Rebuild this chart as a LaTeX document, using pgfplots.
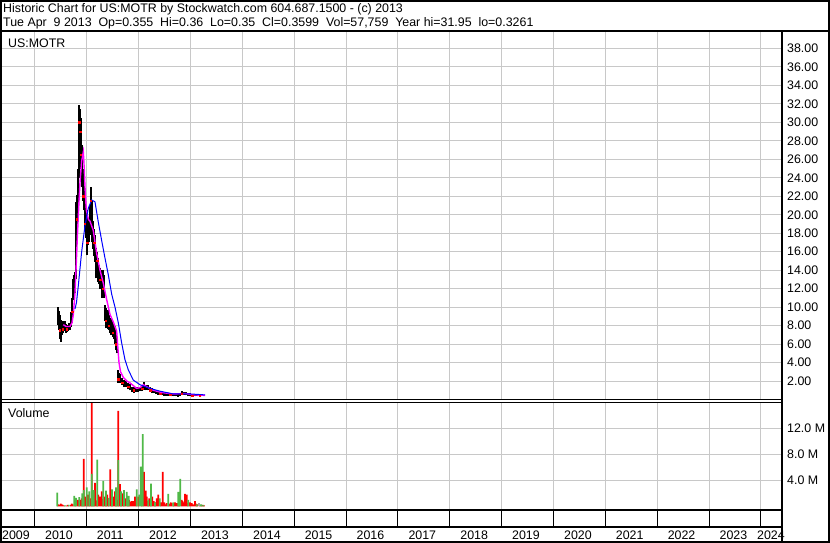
\documentclass[border=0pt]{standalone}
\usepackage{pgfplots}
\usepackage{pgfplotstable}
\usepackage{fontspec}
\setmainfont{Liberation Sans}
\pgfplotsset{compat=1.18}
\newcommand\cf{\fontsize{12.4}{14}\selectfont}
\definecolor{gridc}{RGB}{200,200,200}
\definecolor{vgreen}{RGB}{80,185,72}
\definecolor{vgrey}{RGB}{160,160,160}
\definecolor{mag}{RGB}{255,0,255}

\pgfplotstableread{
t hi lo
2010.444 10.0 8.1
2010.463 9.6 7.5
2010.482 9.1 6.6
2010.501 8.6 6.2
2010.521 8.3 7.0
2010.540 8.5 7.2
2010.559 8.4 7.4
2010.579 8.5 7.4
2010.598 8.2 7.2
2010.617 8.0 7.3
2010.636 8.1 7.4
2010.656 8.3 7.5
2010.675 8.3 7.5
2010.694 9.5 7.8
2010.714 11.0 8.3
2010.733 13.0 10.8
2010.752 13.5 11.2
2010.771 13.8 11.5
2010.791 21.4 13.0
2010.810 22.1 18.0
2010.829 25.0 19.5
2010.849 31.9 24.0
2010.868 31.5 25.0
2010.887 30.5 25.9
2010.906 27.5 23.0
2010.926 25.0 21.5
2010.945 23.9 20.5
2010.964 22.2 18.3
2010.984 21.0 17.5
2011.003 20.5 15.6
2011.022 19.5 16.7
2011.041 19.0 17.0
2011.061 21.0 17.8
2011.080 23.0 18.0
2011.099 21.5 17.0
2011.119 19.3 16.3
2011.138 18.5 15.5
2011.157 17.8 14.9
2011.176 16.4 13.1
2011.196 16.0 14.5
2011.215 15.3 12.7
2011.234 14.6 12.5
2011.254 14.2 12.0
2011.273 14.0 12.2
2011.292 14.0 11.0
2011.311 14.0 11.5
2011.331 13.5 11.0
2011.350 10.2 8.5
2011.369 9.9 7.7
2011.389 9.6 7.8
2011.408 9.7 7.6
2011.427 9.2 7.5
2011.447 8.8 7.2
2011.466 8.5 7.0
2011.485 8.7 7.2
2011.504 8.3 6.8
2011.524 8.0 6.5
2011.543 8.0 6.0
2011.562 7.0 5.4
2011.582 6.5 5.0
2011.601 3.2 1.8
2011.620 2.9 1.8
2011.639 2.8 1.8
2011.678 2.3 1.6
2011.717 2.1 1.4
2011.755 2.0 1.4
2011.794 1.8 1.1
2011.832 1.7 1.0
2011.871 1.4 0.8
2011.909 1.3 0.7
2011.948 1.3 0.8
2011.987 1.4 0.85
2012.025 1.3 0.9
2012.064 1.5 0.9
2012.102 1.9 1.0
2012.141 1.6 1.0
2012.179 1.6 1.0
2012.218 1.4 0.9
2012.257 1.2 0.7
2012.295 1.1 0.7
2012.334 1.0 0.6
2012.372 0.9 0.5
2012.411 0.9 0.5
2012.449 0.8 0.45
2012.488 0.75 0.4
2012.527 0.7 0.4
2012.565 0.7 0.4
2012.604 0.7 0.4
2012.642 0.7 0.35
2012.681 0.7 0.35
2012.719 0.65 0.35
2012.758 0.6 0.3
2012.797 0.7 0.35
2012.835 0.9 0.5
2012.874 0.85 0.5
2012.912 0.8 0.45
2012.951 0.7 0.35
2012.989 0.65 0.35
2013.028 0.6 0.35
2013.067 0.6 0.35
2013.105 0.55 0.35
2013.144 0.55 0.35
2013.182 0.5 0.35
2013.221 0.5 0.33
2013.259 0.45 0.33
}\pricebars

\pgfplotstableread{
t c
2010.482 7.5
2010.540 7.6
2010.617 7.6
2010.714 9.5
2010.810 19.5
2010.849 30.0
2010.868 29.0
2010.887 26.5
2010.926 22.0
2010.964 19.0
2011.003 17.0
2011.080 21.5
2011.138 17.0
2011.196 15.0
2011.254 13.0
2011.311 12.0
2011.369 8.5
2011.427 8.0
2011.504 7.2
2011.562 6.0
2011.601 2.2
2011.678 1.8
2011.794 1.4
2011.909 1.0
2012.064 1.2
2012.218 1.0
2012.411 0.6
2012.604 0.5
2012.835 0.6
2013.028 0.4
2013.182 0.4
}\closes

\pgfplotstableread{
t v
2010.546 8.1
2010.600 7.9
2010.675 7.9
2010.714 8.3
2010.739 9.2
2010.771 11.5
2010.791 14.0
2010.816 17.5
2010.849 21.5
2010.868 23.5
2010.900 25.8
2010.932 26.8
2010.950 25.0
2010.964 23.0
2010.990 20.5
2011.030 19.5
2011.061 19.3
2011.124 18.3
2011.190 15.8
2011.254 14.0
2011.317 12.6
2011.383 10.8
2011.447 9.2
2011.510 8.4
2011.575 7.4
2011.600 5.5
2011.620 4.0
2011.650 3.0
2011.703 2.4
2011.770 2.0
2011.832 1.8
2011.961 1.2
2012.030 1.3
2012.089 1.6
2012.180 1.3
2012.282 1.0
2012.450 0.75
2012.667 0.6
2012.900 0.65
2013.050 0.5
2013.279 0.45
}\mafast

\pgfplotstableread{
t v
2010.771 9.8
2010.800 10.5
2010.835 12.3
2010.900 16.0
2010.964 18.8
2011.028 20.7
2011.093 21.6
2011.157 21.4
2011.221 19.2
2011.286 17.2
2011.350 15.3
2011.414 13.5
2011.479 11.4
2011.543 10.0
2011.607 8.3
2011.672 6.1
2011.736 4.3
2011.800 3.2
2011.896 2.1
2012.025 1.6
2012.218 1.2
2012.411 0.9
2012.667 0.6
2012.989 0.6
2013.279 0.5
}\maslow

\pgfplotstableread{
t v
2010.449 0.3
2010.466 0.2
2010.496 0.4
2010.515 0.3
2010.534 0.2
2010.553 0.1
2010.611 0.1
2010.630 0.2
2010.689 0.2
2010.708 0.4
2010.727 0.3
2010.775 0.8
2010.824 1.0
2010.843 0.9
2010.881 1.0
2010.900 1.2
2010.939 7.3
2010.964 1.5
2010.980 1.0
2011.022 1.8
2011.060 1.2
2011.094 16.5
2011.113 1.0
2011.140 1.3
2011.157 3.6
2011.180 0.9
2011.221 1.8
2011.240 1.0
2011.254 1.5
2011.286 2.3
2011.300 1.1
2011.337 1.5
2011.355 0.9
2011.394 1.8
2011.410 1.0
2011.452 5.7
2011.470 0.8
2011.510 1.5
2011.525 1.2
2011.543 2.3
2011.580 1.0
2011.607 14.7
2011.639 3.4
2011.678 2.0
2011.700 1.1
2011.742 1.2
2011.790 0.9
2011.813 1.0
2011.845 0.7
2011.865 0.8
2011.890 0.8
2011.929 1.5
2011.945 1.0
2011.992 1.5
2012.060 1.3
2012.102 5.3
2012.120 0.9
2012.135 2.4
2012.154 1.5
2012.170 0.8
2012.204 1.2
2012.220 0.7
2012.262 1.5
2012.289 0.8
2012.330 0.6
2012.347 1.2
2012.360 0.5
2012.378 1.8
2012.430 0.6
2012.445 0.4
2012.463 5.3
2012.494 0.6
2012.521 0.3
2012.540 0.5
2012.590 0.4
2012.604 0.3
2012.620 0.6
2012.636 0.5
2012.680 0.4
2012.700 0.6
2012.733 0.5
2012.750 0.5
2012.780 0.4
2012.829 1.0
2012.845 0.8
2012.860 0.6
2012.893 1.9
2012.910 0.7
2012.926 1.8
2012.940 0.5
2012.989 0.6
2013.005 0.4
2013.022 0.5
2013.053 0.3
2013.070 0.3
2013.086 0.8
2013.100 0.4
2013.135 0.3
2013.180 0.2
2013.220 0.2
2013.260 0.15
}\volred

\pgfplotstableread{
t v
2010.430 2.1
2010.579 0.15
2010.650 0.2
2010.758 1.6
2010.791 1.3
2010.854 1.4
2010.912 2.0
2010.939 2.5
2010.997 2.9
2011.047 2.3
2011.094 5.0
2011.132 2.5
2011.202 7.2
2011.317 3.9
2011.369 2.4
2011.421 1.3
2011.485 2.6
2011.562 2.9
2011.607 7.1
2011.660 2.3
2011.717 2.5
2011.769 2.2
2011.807 1.6
2011.961 2.6
2012.012 1.8
2012.039 6.1
2012.077 11.1
2012.185 1.0
2012.237 3.5
2012.314 0.6
2012.405 1.2
2012.571 1.9
2012.667 0.6
2012.764 2.2
2012.802 4.2
2012.956 1.0
2013.119 0.3
2013.202 0.3
2013.246 0.2
}\volgreen

\pgfplotstableread{
t v
2013.163 0.5
}\volgrey

\pgfplotsset{
  stockaxis/.style={
    scale only axis, width=781pt,
    xmin=2009.3443, xmax=2024.4069,
    xtick={2010,2011,...,2024}, xticklabels={},
    major tick length=0pt,
    axis line style={draw=none},
    grid=major, major grid style={draw=gridc, line width=1pt},
    yticklabel pos=right,
    yticklabel style={anchor=west, inner sep=0pt, xshift=5pt, font=\cf},
    /pgf/number format/assume math mode=true,
    clip=true,
  }
}

\begin{document}
\begin{tikzpicture}
\useasboundingbox (0pt,0pt) rectangle (830pt,543pt);

% price panel
\begin{axis}[stockaxis, at={(1pt,143pt)}, anchor=south west, height=368pt,
  ymin=-0.054, ymax=39.786, ytick={2,4,...,38},
  yticklabel={\pgfmathprintnumber[fixed,fixed zerofill,precision=2]{\tick}}]
  \addplot[draw=none, mark=none, forget plot,
    error bars/.cd, y dir=plus, y explicit, error mark=none,
    error bar style={draw=black, line width=1.2pt, solid}]
    table[x=t, y=lo, y error plus expr=\thisrow{hi}-\thisrow{lo}] {\pricebars};
  \addplot[only marks, mark=square*, mark size=0.7pt, red, forget plot] table[x=t, y=c] {\closes};
  \addplot[mag, line width=1.4pt, mark=none] table[x=t, y=v] {\mafast};
  \addplot[blue, line width=1pt, mark=none] table[x=t, y=v] {\maslow};
\end{axis}

% volume panel
\begin{axis}[stockaxis, at={(1pt,33pt)}, anchor=south west, height=107.5pt,
  ymin=-0.569, ymax=15.97, ytick={4,8,12}, yticklabels={4.0 M,8.0 M,12.0 M}]
  \addplot[ybar, bar width=1.7pt, bar shift=0pt, fill=red, draw=none] table[x=t, y=v] {\volred};
  \addplot[ybar, bar width=1.7pt, bar shift=0pt, fill=vgreen, draw=none] table[x=t, y=v] {\volgreen};
  \addplot[ybar, bar width=1.7pt, bar shift=0pt, fill=vgrey, draw=none] table[x=t, y=v] {\volgrey};
\end{axis}

% year tick row
\begin{axis}[at={(1pt,16pt)}, anchor=south west, scale only axis, width=781pt, height=17pt,
  xmin=2009.3443, xmax=2024.4069, ymin=0, ymax=1,
  xtick={2010,2011,...,2024}, xticklabels={}, ytick=\empty, major tick length=0pt,
  axis line style={draw=none}, grid=major, major grid style={draw=black, line width=1pt}]
\end{axis}

% frames
\draw[line width=2pt] (1pt,1pt) rectangle (829pt,542pt);
\draw[line width=2pt] (0pt,512pt) -- (830pt,512pt);
\draw[line width=2pt] (782pt,0pt) -- (782pt,512pt);
\draw[line width=1pt] (0pt,143pt) -- (782pt,143pt);
\draw[line width=1pt] (0pt,140.5pt) -- (782pt,140.5pt);
\draw[line width=1.6pt] (0pt,33pt) -- (782pt,33pt);
\draw[line width=1.6pt] (0pt,16pt) -- (782pt,16pt);

% texts
\node[anchor=west, inner sep=0pt, font=\cf] at (3pt,534pt) {Historic Chart for US:MOTR by Stockwatch.com 604.687.1500 - (c) 2013};
\node[anchor=west, inner sep=0pt, font=\cf] at (3pt,520pt) {Tue Apr~~9 2013~~Op=0.355~~Hi=0.36~~Lo=0.35~~Cl=0.3599~~Vol=57,759~~Year hi=31.95~~lo=0.3261};
\node[anchor=west, inner sep=0pt, font=\cf] at (8pt,500pt) {US:MOTR};
\node[anchor=west, inner sep=0pt, font=\cf] at (8pt,130pt) {Volume};
\foreach \yr/\xp in {2009/2,2010/45,2011/96.7,2012/149,2013/201,2014/253,2015/304.6,2016/356.5,2017/408.3,2018/460.2,2019/512,2020/563.9,2021/615.7,2022/667.6,2023/719.4,2024/757}
  \node[anchor=west, inner sep=0pt, font=\cf] at (\xp pt,8pt) {\yr};
\end{tikzpicture}
\end{document}
